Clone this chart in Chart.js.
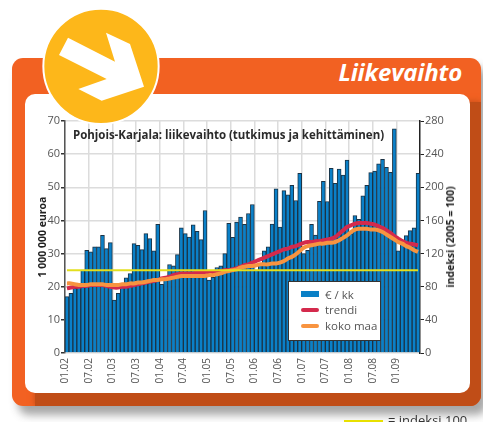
<!DOCTYPE html>
<html lang="fi"><head><meta charset="utf-8">
<script src="https://cdn.jsdelivr.net/npm/chart.js@4"></script>
<style>
html,body{margin:0;padding:0;background:#fff;width:483px;height:422px;overflow:hidden;font-family:"Open Sans",sans-serif}
.abs{position:absolute}
#orange{left:12px;top:58px;width:469px;height:348px;background:#f26122;border-radius:11px;box-shadow:6px 9px 9px rgba(60,60,60,.45);overflow:hidden}
#dark{left:23px;top:44px;width:446px;height:304px;background:#c04d17;box-shadow:0 0 6px #c04d17}
#white{left:25px;top:94px;width:445px;height:299px;background:#fff;border-radius:10px}
#head{right:21px;top:56px;color:#fff;font:italic 700 24px "Open Sans",sans-serif;line-height:32px;letter-spacing:-.2px}
#c{position:absolute;left:0;top:0}
#title{left:73px;top:127px;font:700 11.5px "Open Sans",sans-serif;letter-spacing:-.02px;color:#2b2b2b;white-space:nowrap}
#rtitle{left:450px;top:236.5px;font:700 10.5px "Open Sans",sans-serif;color:#222;white-space:nowrap;transform:translate(-50%,-50%) rotate(-90deg)}
#legend{left:288px;top:281px;width:91px;height:58px;background:#fff;border:1.5px solid #333;font-size:11.5px;color:#555}
#legend div.t{position:absolute;left:36px;white-space:nowrap;line-height:14px}
#legend div.s{position:absolute;left:12px;width:18px}
#ysw{left:344px;top:420px;width:39px;height:3px;background:#e8e000}
#ytxt{left:388px;top:412px;font-size:13px;line-height:16px;color:#333;white-space:nowrap}
svg{position:absolute;left:0;top:0}
</style></head><body>
<div class="abs" id="orange"><div class="abs" id="dark"></div></div>
<div class="abs" id="white"></div>
<div class="abs" id="head">Liikevaihto</div>
<canvas id="c" width="483" height="422"></canvas>
<div class="abs" id="title">Pohjois-Karjala: liikevaihto (tutkimus ja kehittäminen)</div>
<div class="abs" id="rtitle">indeksi (2005 = 100)</div>
<div class="abs" id="legend">
<div class="s" style="top:9px;height:6px;background:#0a80c6"></div><div class="t" style="top:6px">€ / kk</div>
<div class="s" style="top:26px;height:3.5px;border-radius:2px;background:#d42a4c"></div><div class="t" style="top:21px">trendi</div>
<div class="s" style="top:42px;height:3.5px;border-radius:2px;background:#f89440"></div><div class="t" style="top:37px">koko maa</div>
</div>
<div class="abs" id="ysw"></div><div class="abs" id="ytxt">= indeksi 100</div>
<svg width="240" height="210" viewBox="0 0 720 630">
<circle cx="303" cy="199" r="173" fill="#fdb71a" stroke="#fff" stroke-width="6"/>
<polygon fill="#fff" points="204,113 345,185 318,98 390,132 432,260 305,302 235,267 320,237 177,165"/>
</svg>
<script>
const months = [
"01.02","02.02","03.02","04.02","05.02","06.02","07.02","08.02","09.02","10.02","11.02","12.02",
"01.03","02.03","03.03","04.03","05.03","06.03","07.03","08.03","09.03","10.03","11.03","12.03",
"01.04","02.04","03.04","04.04","05.04","06.04","07.04","08.04","09.04","10.04","11.04","12.04",
"01.05","02.05","03.05","04.05","05.05","06.05","07.05","08.05","09.05","10.05","11.05","12.05",
"01.06","02.06","03.06","04.06","05.06","06.06","07.06","08.06","09.06","10.06","11.06","12.06",
"01.07","02.07","03.07","04.07","05.07","06.07","07.07","08.07","09.07","10.07","11.07","12.07",
"01.08","02.08","03.08","04.08","05.08","06.08","07.08","08.08","09.08","10.08","11.08","12.08",
"01.09","02.09","03.09","04.09","05.09","06.09"];
const eurot = [
17,18,19.5,20.5,25,31,30.5,32,32,35.5,31.5,33.3,
16,18,20,22.7,24,33,32.5,31.2,36,34.5,30.8,38.8,
20.7,22,26.7,26.3,29.7,37.8,36,35,38.7,36.7,34.2,43,
22,22.8,25.8,26.3,30,39.1,34.9,39.5,41,38.8,42.1,44.8,
25,27,30.8,32,38.9,49.5,38,49,47.7,50.6,46,54.2,
30,31,38.8,35.6,45.8,51.8,45.7,55.7,51.2,55.5,53.7,58.2,
36,41.5,40.3,47.4,50.6,54.4,54.9,57.1,58.4,56,54.5,67.6,
30.8,33.8,35.4,36.9,37.8,54.2];
const trendi = [
78,79,80,80,81,81,82,82,82,82,81,80,
79,79,80,80,81,82,83,84,85,86,87,88,
90,91,92,94,95,96,96,96,96,97,97,97,
97,97,98,99,100,100,101,102,104,106,107,109,
111,113,115,117,119,121,123,125,126,128,129,131,
133,134,134,135,135,136,137,138,140,144,148,152,
154,156,157,157,157,156,155,153,151,148,145,141,
138,135,133,132,131,130];
const kokoMaa = [
84,84,83,82,82,82,83,83,83,83,82,82,
82,82,83,83,84,84,85,85,86,87,88,88,
89,89,90,91,92,93,93,93,93,93,93,93,
94,94,95,96,98,99,100,101,103,104,105,105,
106,107,107,107,108,108,109,111,114,116,119,123,
127,129,130,131,132,132,133,133,134,136,139,142,
146,149,150,150,150,149,149,148,146,143,140,137,
134,132,129,127,124,122];
const indeksi100 = months.map(() => 100);
const tickFont = {family:'"Open Sans",sans-serif', size:11};
const axisTitleFont = {family:'"Open Sans",sans-serif', size:10.5, weight:'700'};
const band = 355/90;
new Chart(document.getElementById('c'), {
  type:'bar',
  data:{labels:months, datasets:[
    {type:'bar', label:'€ / kk', data:eurot, yAxisID:'y', backgroundColor:'#0a80c8', borderColor:'#1b3345', borderWidth:1, barPercentage:1, categoryPercentage:1, order:4},
    {type:'line', label:'trendi', data:trendi, yAxisID:'y2', borderColor:'#d42a4c', borderWidth:4, pointRadius:0, tension:.35, order:3},
    {type:'line', label:'koko maa', data:kokoMaa, yAxisID:'y2', borderColor:'#f89440', borderWidth:4, pointRadius:0, tension:.35, order:2},
    {type:'line', label:'indeksi 100', data:indeksi100, yAxisID:'y2', borderColor:'#e3df1e', borderWidth:2, pointRadius:0, order:1}
  ]},
  options:{
    responsive:false, animation:false, events:[],
    layout:{padding:{left:34,right:26,top:121,bottom:30}},
    plugins:{legend:{display:false}, title:{display:false}, tooltip:{enabled:false}},
    scales:{
      x:{
        offset:true,
        afterFit(s){s.height=39},
        border:{display:false},
        grid:{offset:true, drawTicks:false, lineWidth:1.5, color:c=>c.index%6===0?'#dcdcdc':'rgba(0,0,0,0)'},
        ticks:{autoSkip:false, minRotation:90, maxRotation:90, padding:5, labelOffset:-band/2, font:{family:'"Open Sans",sans-serif',size:10}, color:'#555',
          callback(v,i){return i%6===0?months[i]:''}}
      },
      y:{
        position:'left', min:0, max:70,
        afterFit(s){s.width=31},
        border:{color:'#555',width:1.5},
        grid:{color:'#dcdcdc', lineWidth:1.5, tickColor:'#333', tickLength:4},
        ticks:{stepSize:10, padding:1, font:tickFont, color:'#555'},
        title:{display:true, text:'1 000 000 euroa', font:axisTitleFont, color:'#222', padding:{top:3,bottom:0}}
      },
      y2:{
        position:'right', min:0, max:280,
        afterFit(s){s.width=37},
        border:{color:'#222',width:1.5},
        grid:{drawOnChartArea:false, tickColor:'#222', tickLength:4},
        ticks:{stepSize:40, padding:1, font:tickFont, color:'#555'}
      }
    }
  }
});
</script>
</body></html>
